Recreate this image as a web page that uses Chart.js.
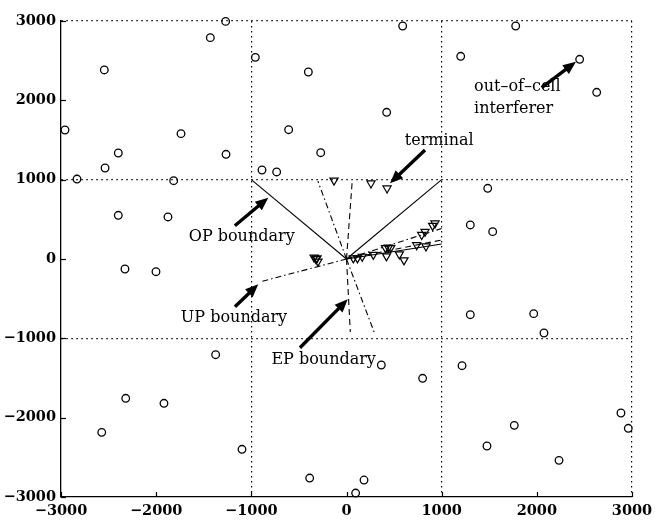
<!DOCTYPE html>
<html>
<head>
<meta charset="utf-8">
<script src="https://cdn.jsdelivr.net/npm/chart.js@4.4.1/dist/chart.umd.min.js"></script>
<style>
  html, body { margin: 0; padding: 0; background: #fff; }
  #wrap { width: 655px; height: 520px; position: relative; }
</style>
</head>
<body>
<div id="wrap"><canvas id="c" width="655" height="520"></canvas></div>
<script>
// ---- data ----
const tickValues = [-3000, -2000, -1000, 0, 1000, 2000, 3000];
const tickLabels = ['\u22123000', '\u22122000', '\u22121000', '0', '1000', '2000', '3000'];
const cellEdges = [-1000, 1000, 3000];

const interfererX = [-1270, -1431, -2545, -958, -401, -2958, -1739, -2398, -2537, -1266, -2832, -1816, -608, -271, -888, -734, -2398, -1876,
  590, 1778, 1200, 2450, 2629, 422, 1484, 1301, 1536,
  -2328, -2002, -1375, -2320, -1918, -2572, -1098, -387,
  1301, 1967, 2075, 1214, 366, 800, 2884, 2961, 1763, 1476, 2233, 184, 96];
const interfererY = [2995, 2790, 2383, 2542, 2357, 1626, 1580, 1336, 1147, 1320, 1008, 987, 1630, 1340, 1122, 1097, 551, 530,
  2937, 2937, 2555, 2517, 2101, 1849, 891, 429, 345,
  -126, -160, -1206, -1756, -1819, -2185, -2399, -2761,
  -702, -689, -933, -1345, -1336, -1504, -1941, -2134, -2097, -2357, -2538, -2786, -2950];

const terminalX = [-131, 257, 426, -340, -320, -300, -310, 72, 115, 165, 282, 420, 410, 440, 465, 555, 604, 737, 835, 790, 825, 905, 930];
const terminalY = [990, 954, 891, 20, 0, -30, 10, 10, 10, 30, 55, 35, 140, 145, 140, 60, -15, 176, 160, 305, 345, 420, 450];

const baseStation = [0, 0];
const opEndX = [-1000, 1000, 1000];
const opEndY = [1000, 1000, 190];
const upEndX = [-915, -300, 290, 1000];
const upEndY = [-290, 980, -920, 385];
const epEndX = [60, 40, 1000];
const epEndY = [980, -920, 240];

// annotations: label lines, text anchor, arrow tail, arrow tip (data units)
const noteText = [['terminal'], ['out\u2013of\u2013cell', 'interferer'], ['OP boundary'], ['UP boundary'], ['EP boundary']];
const noteAnchorX = [974, 1340, -1101, -1182, -240];
const noteAnchorY = [1490, 2030, 277, -744, -1273];
const noteAlign = ['center', 'left', 'center', 'center', 'center'];
const arrowTailX = [825, 2051, -1173, -1172, -489];
const arrowTailY = [1374, 2160, 420, -601, -1118];
const arrowTipX = [457, 2411, -822, -927, 13];
const arrowTipY = [954, 2487, 773, -319, -508];

// ---- build datasets ----
function rays(ex, ey, dash) {
  return ex.map((x, i) => ({
    type: 'scatter',
    data: [{x: baseStation[0], y: baseStation[1]}, {x: x, y: ey[i]}],
    showLine: true,
    borderColor: '#000',
    borderWidth: 1.1,
    borderDash: dash,
    pointRadius: 0,
    fill: false
  }));
}

const datasets = [
  {
    type: 'scatter',
    data: interfererX.map((x, i) => ({x: x, y: interfererY[i]})),
    pointStyle: 'circle',
    pointRadius: 3.8,
    borderWidth: 1.3,
    borderColor: '#000',
    backgroundColor: 'rgba(0,0,0,0)',
    clip: false
  },
  {
    type: 'scatter',
    data: terminalX.map((x, i) => ({x: x, y: terminalY[i]})),
    pointStyle: 'triangle',
    rotation: 180,
    pointRadius: 4.7,
    borderWidth: 1.2,
    borderColor: '#000',
    backgroundColor: 'rgba(0,0,0,0)',
    clip: false
  },
  ...rays(opEndX, opEndY, []),
  ...rays(upEndX, upEndY, [6, 3, 1.5, 3]),
  ...rays(epEndX, epEndY, [6, 4])
];

const tickFont = {family: 'DejaVu Serif', size: 14.5, weight: 'bold'};

const innerTicks = {
  id: 'innerTicks',
  afterDraw(chart) {
    const {ctx, chartArea, scales} = chart;
    ctx.save();
    ctx.strokeStyle = '#000';
    ctx.lineWidth = 1.2;
    ctx.setLineDash([]);
    tickValues.forEach(v => {
      const px = Math.round(scales.x.getPixelForValue(v)) + 0.5;
      ctx.beginPath();
      ctx.moveTo(px, chartArea.bottom);
      ctx.lineTo(px, chartArea.bottom - 5);
      ctx.stroke();
      const py = Math.round(scales.y.getPixelForValue(v)) + 0.5;
      ctx.beginPath();
      ctx.moveTo(chartArea.left, py);
      ctx.lineTo(chartArea.left + 5, py);
      ctx.stroke();
    });
    ctx.restore();
  }
};

const notes = {
  id: 'notes',
  afterDraw(chart) {
    const {ctx, scales} = chart;
    ctx.save();
    ctx.fillStyle = '#000';
    ctx.strokeStyle = '#000';
    ctx.font = '16px "DejaVu Serif"';
    ctx.textBaseline = 'middle';
    noteText.forEach((lines, i) => {
      const ax = scales.x.getPixelForValue(noteAnchorX[i]);
      const ay = scales.y.getPixelForValue(noteAnchorY[i]);
      ctx.textAlign = noteAlign[i];
      const lh = 22;
      lines.forEach((t, k) => {
        ctx.fillText(t, ax, ay + (k - (lines.length - 1) / 2) * lh);
      });
      // arrow
      const tx = scales.x.getPixelForValue(arrowTailX[i]);
      const ty = scales.y.getPixelForValue(arrowTailY[i]);
      const hx = scales.x.getPixelForValue(arrowTipX[i]);
      const hy = scales.y.getPixelForValue(arrowTipY[i]);
      const ang = Math.atan2(hy - ty, hx - tx);
      const L = 13, W = 5.5;
      const bx = hx - L * Math.cos(ang), by = hy - L * Math.sin(ang);
      ctx.lineWidth = 3.4;
      ctx.beginPath();
      ctx.moveTo(tx, ty);
      ctx.lineTo(bx + 2 * Math.cos(ang), by + 2 * Math.sin(ang));
      ctx.stroke();
      ctx.beginPath();
      ctx.moveTo(hx, hy);
      ctx.lineTo(bx + W * Math.sin(ang), by - W * Math.cos(ang));
      ctx.lineTo(bx - W * Math.sin(ang), by + W * Math.cos(ang));
      ctx.closePath();
      ctx.fill();
    });
    ctx.restore();
  }
};

function gridColor(c) {
  const v = c.tick ? c.tick.value : null;
  return cellEdges.includes(v) ? '#000' : 'rgba(0,0,0,0)';
}

new Chart(document.getElementById('c'), {
  type: 'scatter',
  data: {datasets: datasets},
  options: {
    responsive: false,
    animation: false,
    devicePixelRatio: 1,
    layout: {padding: {left: 0, right: 23, top: 21, bottom: 0}},
    plugins: {legend: {display: false}, tooltip: {enabled: false}},
    scales: {
      x: {
        type: 'linear', min: -3000, max: 3000,
        afterBuildTicks: s => { s.ticks = tickValues.map(v => ({value: v})); },
        afterFit: s => { s.height = 23; s.paddingLeft = 0; s.paddingRight = 0; },
        ticks: {
          font: tickFont, color: '#000', padding: 6, maxRotation: 0, autoSkip: false,
          callback: v => tickLabels[tickValues.indexOf(v)]
        },
        grid: {color: gridColor, lineWidth: 1.2, drawTicks: false},
        border: {display: true, color: '#000', width: 1.3, dash: [1.5, 3.5]}
      },
      y: {
        type: 'linear', min: -3000, max: 3000,
        afterBuildTicks: s => { s.ticks = tickValues.map(v => ({value: v})); },
        afterFit: s => { s.width = 61; s.paddingTop = 0; s.paddingBottom = 0; },
        ticks: {
          font: tickFont, color: '#000', padding: 5, autoSkip: false,
          callback: v => tickLabels[tickValues.indexOf(v)]
        },
        grid: {color: gridColor, lineWidth: 1.2, drawTicks: false},
        border: {display: true, color: '#000', width: 1.3, dash: [1.5, 3.5]}
      }
    }
  },
  plugins: [innerTicks, notes]
});
</script>
</body>
</html>
